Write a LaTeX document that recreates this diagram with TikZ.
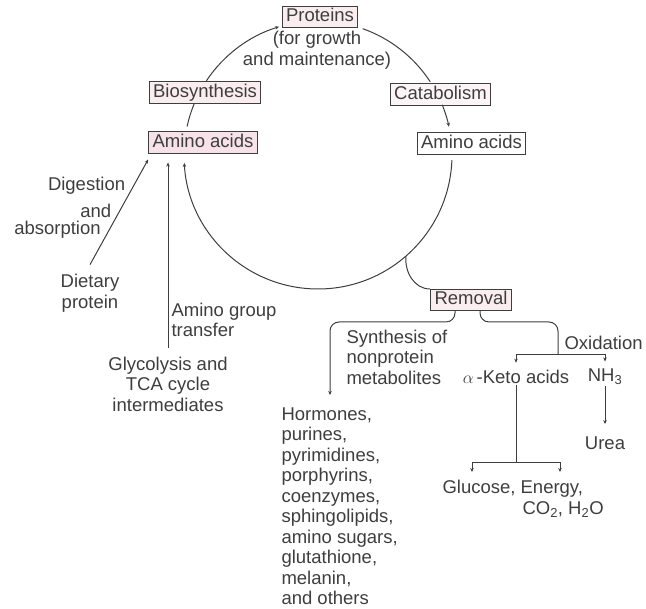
\documentclass[tikz,border=0pt]{standalone}
\usepackage{fontspec}
\setmainfont{Liberation Sans}
\usetikzlibrary{arrows.meta}
\definecolor{ink}{RGB}{62,62,62}
\definecolor{boxpink}{RGB}{250,237,240}
\definecolor{deeppink}{RGB}{247,226,233}
\begin{document}
\begin{tikzpicture}[x=1pt,y=1pt,color=ink,line width=1pt,
  font=\fontsize{18.5}{20.5}\selectfont,
  >={Stealth[length=4pt,width=3.5pt]},
  bx/.style={draw,fill=boxpink,line width=0.9pt,inner xsep=4pt,inner ysep=1.8pt,
    text height=13.5pt,text depth=4pt},
  lbl/.style={inner sep=1pt,align=center}]
\useasboundingbox (0,0) rectangle (646,609);

\coordinate (cyc) at (318,454);
\node[bx] (prot) at (320,592) {Proteins};
\node[lbl] (care) at (317,559) {(for growth\\and maintenance)};
\node[bx] (bio) at (205,516.5) {Biosynthesis};
\node[bx,fill=boxpink!60] (cat) at (440.5,514.5) {Catabolism};
\node[bx,fill=deeppink] (aaL) at (203,466.5) {Amino acids};
\node[bx,fill=white] (aaR) at (471.5,465.5) {Amino acids};
\node[bx] (rem) at (471,309) {Removal};

\draw ([shift={(167.7:134)}]cyc) arc[start angle=167.7,end angle=157.6,radius=134];
\draw[->] ([shift={(146.4:134)}]cyc) arc[start angle=146.4,end angle=106.9,radius=134];
\draw ([shift={(70.5:134)}]cyc) arc[start angle=70.5,end angle=33.1,radius=134];
\draw[->] ([shift={(22:134)}]cyc) arc[start angle=22,end angle=12.2,radius=134];
\draw[->] ([shift={(-2.2:134)}]cyc) arc[start angle=-2.2,end angle=-176.6,radius=134];
\coordinate (jn) at ([shift={(-49:134)}]cyc);
\draw (jn) to[out=-95,in=180] (rem.north west);

\node[lbl] (diet) at (90,316) {Dietary\\protein};
\draw[->] ([yshift=8pt]diet.north) -- ([yshift=-6pt]aaL.south west)
  node[pos=0.33,anchor=east,xshift=-7pt,inner sep=1pt] (abs) {absorption}
  node[pos=0.51,anchor=east,xshift=-7pt,inner sep=1pt] (and) {and}
  node[pos=0.75,anchor=east,xshift=-7pt,inner sep=1pt] (dig) {Digestion};

\node[lbl] (glyc) at (168,225) {Glycolysis and\\TCA cycle\\intermediates};
\draw[->,shorten <=7pt,shorten >=9pt] (glyc.north) -- (glyc.north |- aaL.south);
\node[lbl,anchor=west,align=left] (agt) at (170,289) {Amino group\\transfer};

\coordinate (synEnd) at (330,214);
\coordinate (ox) at (558,254);
\draw[->,rounded corners=9pt] ([xshift=-16pt]rem.south) |- (synEnd |- 0,287) -- (synEnd);
\draw[rounded corners=9pt] ([xshift=9pt]rem.south) |- (ox |- 0,287) -- (ox);
\node[lbl,anchor=west,align=left] (syn) at (345,252) {Synthesis of\\nonprotein\\metabolites};
\node[lbl,anchor=west] (oxl) at (563,266) {Oxidation};

\node[lbl] (keto) at (516,232) {$\alpha$\,-Keto acids};
\node[lbl] (nh) at (605,232) {NH\textsubscript{3}};
\draw[->,shorten >=6pt] (ox) -| (keto.north);
\draw[->,shorten >=6pt] (ox) -| (nh.north);

\node[lbl] (urea) at (605,166) {Urea};
\draw[->,shorten >=11pt] (nh.south) -- (urea.north);

\coordinate (k2) at (516,146);
\coordinate (gl) at (472,137);
\coordinate (en) at (560,137);
\draw (keto.south) -- (k2);
\draw[->] (k2) -| (gl);
\draw[->] (k2) -| (en);
\node[lbl,anchor=north west,align=left] (prod) at (441,130)
  {Glucose, Energy,\\\hspace*{80pt}CO\textsubscript{2}, H\textsubscript{2}O};

\node[lbl,anchor=north west,align=left] (horm) at (280,203)
  {Hormones,\\purines,\\pyrimidines,\\porphyrins,\\coenzymes,\\sphingolipids,\\amino sugars,\\glutathione,\\melanin,\\and others};
\end{tikzpicture}
\end{document}
